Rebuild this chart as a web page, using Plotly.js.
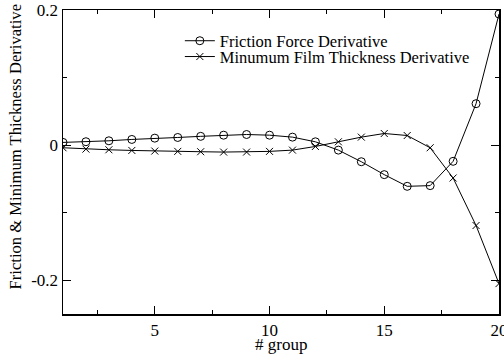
<!DOCTYPE html>
<html>
<head>
<meta charset="utf-8">
<script src="https://cdn.plot.ly/plotly-3.0.1.min.js"></script>
<style>html,body{margin:0;padding:0;background:#fff;}#chart{width:504px;height:356px;}</style>
</head>
<body>
<div id="chart"></div>
<script>
const groups = [1,2,3,4,5,6,7,8,9,10,11,12,13,14,15,16,17,18,19,20];
const frictionDeriv = [0.004,0.005,0.0064,0.0084,0.0103,0.0113,0.013,0.0147,0.0157,0.0147,0.0118,0.0049,-0.0074,-0.0246,-0.0437,-0.061,-0.060,-0.024,0.0613,0.194];
const filmDeriv = [-0.0039,-0.0059,-0.0069,-0.0079,-0.0088,-0.0093,-0.0098,-0.0103,-0.0103,-0.0093,-0.0074,-0.002,0.0049,0.0118,0.0172,0.0142,-0.0039,-0.0487,-0.119,-0.205];
const seriesNames = ["Friction Force Derivative","Minumum Film Thickness Derivative"];
const yTickVals = [-0.2, 0, 0.2];
const yTickText = ["-0.2", "0", "0.2"];
const xTitle = "# group";
const yTitle = "Friction &amp; Minimum Thickness Derivative";

const font = {family: "Liberation Serif, Times New Roman, serif", color: "#000"};
const traces = [
  {x: groups, y: frictionDeriv, name: seriesNames[0], mode: "lines+markers", legend: "legend",
   line: {color: "#000", width: 1},
   marker: {symbol: "circle-open", size: 8, color: "#000", line: {width: 1}}},
  {x: groups, y: filmDeriv, name: seriesNames[1], mode: "lines+markers", legend: "legend2",
   line: {color: "#000", width: 1},
   marker: {symbol: "x-thin-open", size: 7, color: "#000", line: {width: 1, color: "#000"}}}
];
const axisCommon = {
  showgrid: false, zeroline: false, showline: true, linecolor: "#000", linewidth: 1.5,
  mirror: "ticks", ticks: "inside", ticklen: 8, tickwidth: 1, tickcolor: "#000",
  ticklabeloverflow: "allow",
  tickfont: Object.assign({size: 17}, font)
};
const legendCommon = {x: 0.268, xanchor: "left", yanchor: "middle", bgcolor: "rgba(0,0,0,0)",
  font: Object.assign({size: 16.5}, font), itemwidth: 30, borderwidth: 0};
const layout = {
  width: 504, height: 356,
  margin: {l: 63, r: 5, t: 10, b: 42},
  paper_bgcolor: "#fff", plot_bgcolor: "#fff",
  font: font,
  showlegend: true,
  legend: Object.assign({y: 0.898}, legendCommon),
  legend2: Object.assign({y: 0.846}, legendCommon),
  xaxis: Object.assign({}, axisCommon, {
    range: [1, 20], tick0: 0, dtick: 5,
    minor: {dtick: 2.5, ticklen: 4, tickcolor: "#000", ticks: "inside"},
    title: {text: ""}
  }),
  yaxis: Object.assign({}, axisCommon, {
    range: [-0.25, 0.2], tickmode: "array", tickvals: yTickVals, ticktext: yTickText,
    minor: {tickmode: "linear", tick0: 0, dtick: 0.1, ticklen: 4, tickcolor: "#000", ticks: "inside"},
    title: {text: ""}
  }),
  annotations: [{
    text: yTitle, xref: "paper", yref: "paper", x: -0.110, y: 0.548,
    xanchor: "center", yanchor: "middle", textangle: -90, showarrow: false,
    font: Object.assign({size: 16.6}, font)
  }, {
    text: xTitle, xref: "paper", yref: "paper", x: 0.5, y: -0.1,
    xanchor: "center", yanchor: "middle", showarrow: false,
    font: Object.assign({size: 17}, font)
  }]
};
Plotly.newPlot("chart", traces, layout, {displayModeBar: false, staticPlot: true});
</script>
</body>
</html>
